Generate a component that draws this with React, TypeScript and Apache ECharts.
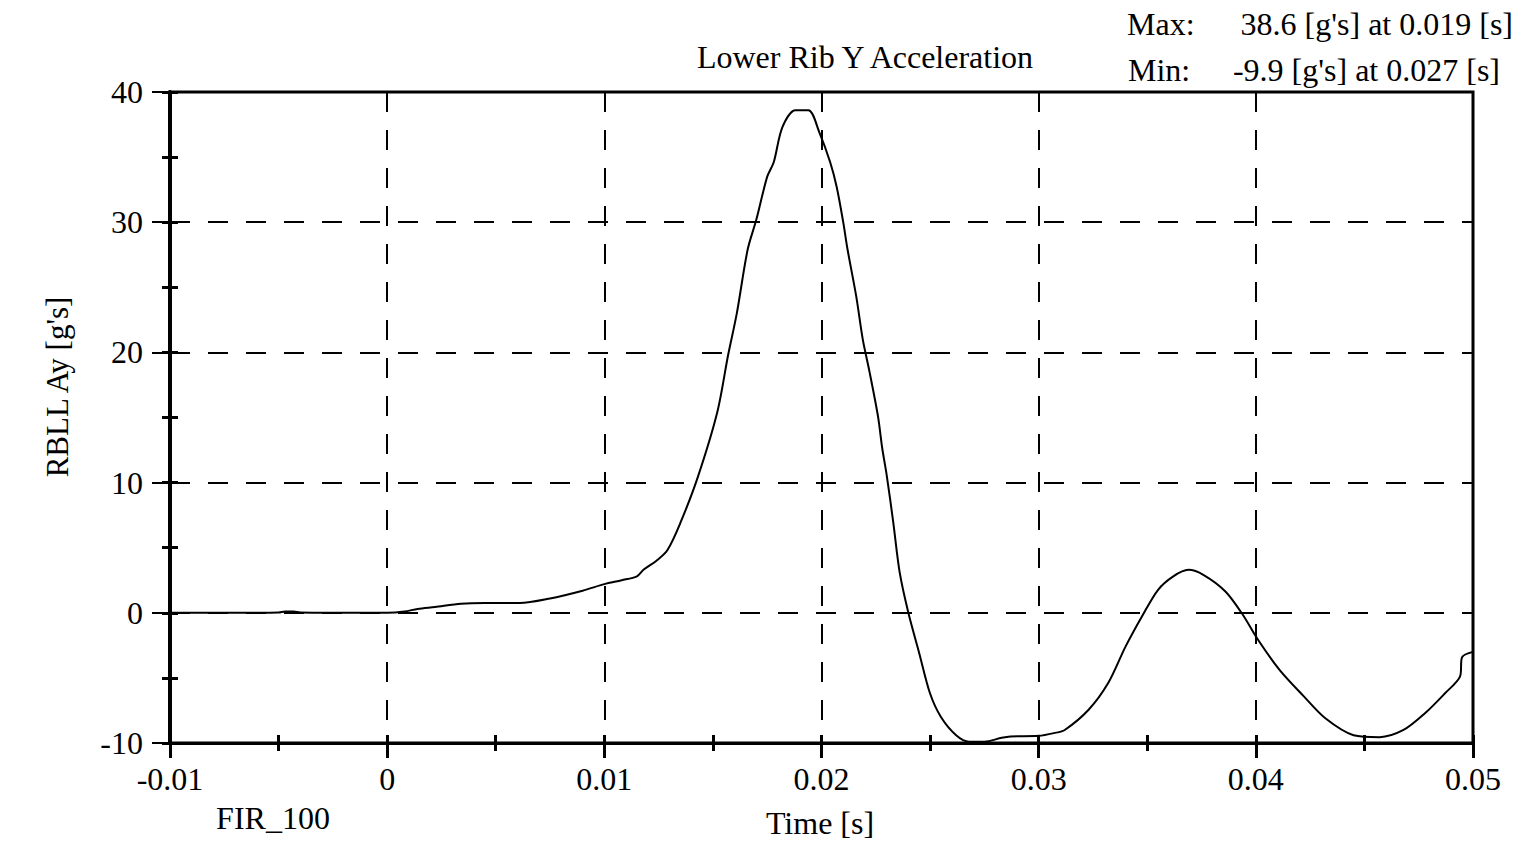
import React, { useEffect, useRef } from "react";
import * as echarts from "echarts";

const timeS: number[] = [
  -0.01, -0.006, -0.005, -0.0047, -0.0043, -0.004, -0.002, 0.0, 0.0008, 0.0014,
  0.0022, 0.0034, 0.0045, 0.0061, 0.0075, 0.009, 0.01, 0.0108, 0.0115, 0.0118,
  0.0124, 0.0129, 0.0135, 0.0143, 0.0152, 0.0157, 0.0161, 0.0166, 0.017, 0.0175,
  0.0178, 0.0182, 0.0188, 0.0194, 0.0199, 0.0204, 0.0207, 0.021, 0.0212, 0.0216,
  0.0219, 0.0222, 0.0226, 0.0228, 0.023, 0.0233, 0.0236, 0.024, 0.0245, 0.025,
  0.0255, 0.0262, 0.0268, 0.0275, 0.0283, 0.0287, 0.03, 0.0307, 0.0312, 0.0323,
  0.0332, 0.034, 0.0348, 0.0355, 0.0362, 0.0369, 0.0376, 0.0386, 0.0394, 0.0401,
  0.0411, 0.0422, 0.0432, 0.0445, 0.0457, 0.0468, 0.0478, 0.0487, 0.0494, 0.0495,
  0.05,
];
const accelG: number[] = [
  0, 0, 0.02, 0.1, 0.1, 0.02, 0, 0, 0.1, 0.3,
  0.45, 0.7, 0.75, 0.75, 1.1, 1.7, 2.2, 2.5, 2.8, 3.3,
  4.0, 4.8, 6.9, 10.4, 15.4, 19.8, 23.0, 27.9, 30.2, 33.5,
  34.6, 37.3, 38.6, 38.6, 36.9, 34.6, 32.7, 30.0, 27.9, 24.3,
  21.0, 18.6, 15.1, 12.6, 10.6, 7.0, 3.1, 0, -3.1, -6.2,
  -8.0, -9.4, -9.9, -9.9, -9.6, -9.5, -9.45, -9.24, -9.0, -7.45,
  -5.4, -2.6, -0.15, 1.77, 2.8, 3.3, 2.9, 1.64, -0.15, -2.07,
  -4.4, -6.4, -8.1, -9.4, -9.55, -9.0, -7.7, -6.2, -4.9, -3.4,
  -3.0,
];

const xTickLabels: Record<string, string> = {
  "-0.01": "-0.01", "0": "0", "0.01": "0.01", "0.02": "0.02", "0.03": "0.03", "0.04": "0.04", "0.05": "0.05",
};
const yTickLabels: number[] = [-10, 0, 10, 20, 30, 40];

const chartTitle = "Lower Rib Y Acceleration";
const maxLabel = "Max:";
const maxText = "38.6 [g's] at 0.019 [s]";
const minLabel = "Min:";
const minText = "-9.9 [g's] at 0.027 [s]";
const xName = "Time [s]";
const yName = "RBLL Ay [g's]";
const filterName = "FIR_100";

const FONT = "'Liberation Serif', 'Times New Roman', serif";
const FS = 32;

export default function App() {
  const ref = useRef<HTMLDivElement>(null);
  useEffect(() => {
    if (!ref.current) return;
    const chart = echarts.init(ref.current, null, { renderer: "svg" });
    const data = timeS.map((t, i) => [t, accelG[i]]);
    const dash = [20, 18];
    const txt = (x: number, y: number, text: string, align = "left", extra: any = {}, fs = FS) => ({
      type: "text",
      x,
      y,
      style: {
        text,
        fontFamily: FONT,
        fontSize: fs,
        fill: "#000",
        align,
        verticalAlign: "middle",
      },
      ...extra,
    });
    chart.setOption({
      animation: false,
      backgroundColor: "#fff",
      grid: {
        left: 170,
        right: 54,
        top: 92,
        bottom: 103,
        show: true,
        borderColor: "#000",
        borderWidth: 3,
        backgroundColor: "transparent",
      },
      xAxis: [
        {
          type: "value",
          min: -0.01,
          max: 0.05,
          interval: 0.01,
          position: "bottom",
          axisLine: { show: true, onZero: false, lineStyle: { color: "#000", width: 3 } },
          axisTick: { show: true, length: 15, lineStyle: { color: "#000", width: 3 } },
          minorTick: { show: false },
          axisLabel: {
            margin: 20,
            fontFamily: FONT,
            fontSize: FS,
            color: "#000",
            formatter: (v: number) => {
              const k = String(Math.round(v * 100) / 100);
              return xTickLabels[k] ?? k;
            },
          },
          splitLine: { show: true, lineStyle: { color: "#000", width: 2, type: dash } },
        },
        {
          type: "value",
          min: -0.01,
          max: 0.05,
          interval: 0.005,
          position: "bottom",
          offset: -8,
          axisLine: { show: false, onZero: false },
          axisTick: { show: true, length: 16, lineStyle: { color: "#000", width: 3 } },
          axisLabel: { show: false },
          splitLine: { show: false },
        },
      ],
      yAxis: [
        {
          type: "value",
          min: -10,
          max: 40,
          interval: 10,
          position: "left",
          axisLine: { show: true, onZero: false, lineStyle: { color: "#000", width: 4 } },
          axisTick: { show: true, length: 18, lineStyle: { color: "#000", width: 2 } },
          minorTick: { show: false },
          axisLabel: {
            margin: 27,
            fontFamily: FONT,
            fontSize: FS,
            color: "#000",
            formatter: (v: number) => (yTickLabels.includes(v) ? String(v) : ""),
          },
          splitLine: { show: true, lineStyle: { color: "#000", width: 2, type: dash } },
        },
        {
          type: "value",
          min: -10,
          max: 40,
          interval: 5,
          position: "left",
          offset: -8,
          axisLine: { show: false, onZero: false },
          axisTick: { show: true, length: 16, lineStyle: { color: "#000", width: 3 } },
          axisLabel: { show: false },
          splitLine: { show: false },
        },
      ],
      series: [
        {
          type: "line",
          xAxisIndex: 0,
          yAxisIndex: 0,
          data,
          showSymbol: false,
          smooth: 0.3,
          lineStyle: { color: "#000", width: 2 },
          z: 5,
        },
      ],
      graphic: [
        txt(865, 57, chartTitle, "center"),
        txt(1127, 24, maxLabel, "left"),
        txt(1513, 24, maxText, "right"),
        txt(1128, 70, minLabel, "left"),
        txt(1500, 70, minText, "right"),
        txt(820, 823, xName, "center"),
        txt(273, 818, filterName, "center"),
        txt(57, 387, yName, "center", { rotation: Math.PI / 2 }, 31),
      ],
    });
    return () => chart.dispose();
  }, []);
  return (
    <div
      ref={ref}
      style={{ position: "fixed", left: 0, top: 0, width: 1527, height: 846, background: "#fff" }}
    />
  );
}
